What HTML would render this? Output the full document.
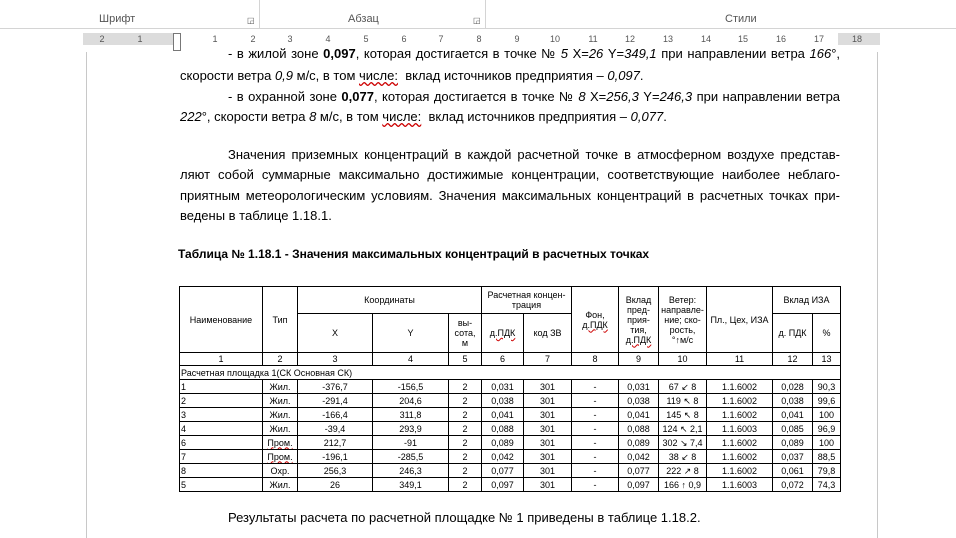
<!DOCTYPE html>
<html><head><meta charset="utf-8">
<style>
*{margin:0;padding:0;box-sizing:border-box}
body{width:956px;height:538px;overflow:hidden;background:#fff;position:relative;font-family:"Liberation Sans",sans-serif;color:#000}
.rib{position:absolute;top:13px;font-size:11px;color:#555}
.vl{position:absolute;top:0;height:28px;width:1px;background:#d4d4d4}
.ruler{position:absolute;top:33px;height:12px;left:83px;width:797px;background:#dcdcdc}
.rw{position:absolute;top:33px;height:12px;left:177px;width:661px;background:#fff}
.rn{position:absolute;top:34px;font-size:9px;color:#555;transform:translateX(-50%)}
.ln{position:absolute;left:180px;width:660px;font-size:13px;white-space:nowrap;text-align:justify;text-align-last:justify;line-height:16px}
.ln.l{text-align-last:left}
table{position:absolute;left:179px;top:286px;border-collapse:collapse;table-layout:fixed;font-size:9px}
td{border:1px solid #000;text-align:center;vertical-align:middle;padding:0 1px;overflow:hidden;white-space:nowrap;line-height:10px}
tr.d td{height:14px}
.u{text-decoration:underline wavy #c00}
</style></head><body>
<div class="vl" style="left:259px"></div><div class="vl" style="left:485px"></div>
<div style="position:absolute;left:0;top:28px;width:956px;height:1px;background:#d4d4d4"></div>
<div class="rib" style="left:99px">Шрифт</div>
<div class="rib" style="left:348px">Абзац</div>
<div class="rib" style="left:725px">Стили</div>
<div class="rib" style="left:247px;font-size:8px;top:16px">◲</div>
<div class="rib" style="left:473px;font-size:8px;top:16px">◲</div>
<div class="ruler"></div><div class="rw"></div>
<div class="rn" style="left:102px">2</div><div class="rn" style="left:140px">1</div>
<div class="rn" style="left:215px">1</div><div class="rn" style="left:253px">2</div><div class="rn" style="left:290px">3</div><div class="rn" style="left:328px">4</div><div class="rn" style="left:366px">5</div><div class="rn" style="left:404px">6</div><div class="rn" style="left:441px">7</div><div class="rn" style="left:479px">8</div><div class="rn" style="left:517px">9</div><div class="rn" style="left:555px">10</div><div class="rn" style="left:593px">11</div><div class="rn" style="left:630px">12</div><div class="rn" style="left:668px">13</div><div class="rn" style="left:706px">14</div><div class="rn" style="left:743px">15</div><div class="rn" style="left:781px">16</div><div class="rn" style="left:819px">17</div><div class="rn" style="left:857px">18</div>
<div style="position:absolute;left:173px;top:33px;width:8px;height:18px;border:1px solid #777;background:#fff"></div>
<div style="position:absolute;left:86px;top:52px;width:1px;height:486px;background:#c8c8c8"></div>
<div style="position:absolute;left:877px;top:52px;width:1px;height:486px;background:#c8c8c8"></div>

<div class="ln" style="top:46px;left:228px;width:612px">- в жилой зоне <b>0,097</b>, которая достигается в точке № <i>5</i> Х=<i>26</i> Y=<i>349,1</i> при направлении ветра <i>166</i>°,</div>
<div class="ln l" style="top:68px">скорости ветра <i>0,9</i> м/с, в том <span class="u">числе:</span> &nbsp;вклад источников предприятия – <i>0,097</i>.</div>
<div class="ln" style="top:89px;left:228px;width:612px">- в охранной зоне <b>0,077</b>, которая достигается в точке № <i>8</i> Х=<i>256,3</i> Y=<i>246,3</i> при направлении ветра</div>
<div class="ln l" style="top:109px"><i>222</i>°, скорости ветра <i>8</i> м/с, в том <span class="u">числе:</span> &nbsp;вклад источников предприятия – <i>0,077</i>.</div>
<div class="ln" style="top:147px;left:228px;width:612px">Значения приземных концентраций в каждой расчетной точке в атмосферном воздухе представ-</div>
<div class="ln" style="top:167px">ляют собой суммарные максимально достижимые концентрации, соответствующие наиболее неблаго-</div>
<div class="ln" style="top:188px">приятным метеорологическим условиям. Значения максимальных концентраций в расчетных точках при-</div>
<div class="ln l" style="top:208px">ведены в таблице 1.18.1.</div>
<div class="ln l" style="top:246px;left:178px;font-size:12px;font-weight:bold">Таблица № 1.18.1 - Значения максимальных концентраций в расчетных точках</div>

<table>
<colgroup><col style="width:83px"><col style="width:35px"><col style="width:75px"><col style="width:76px"><col style="width:33px"><col style="width:42px"><col style="width:48px"><col style="width:47px"><col style="width:40px"><col style="width:48px"><col style="width:66px"><col style="width:40px"><col style="width:28px"></colgroup>
<tr style="height:27px"><td rowspan="2">Наименование</td><td rowspan="2">Тип</td><td colspan="3">Координаты</td><td colspan="2">Расчетная концен-<br>трация</td><td rowspan="2">Фон,<br><span class="u">д.ПДК</span></td><td rowspan="2">Вклад<br>пред-<br>прия-<br>тия,<br><span class="u">д.ПДК</span></td><td rowspan="2">Ветер:<br>направле-<br>ние; ско-<br>рость,<br>°↑м/с</td><td rowspan="2">Пл., Цех, ИЗА</td><td colspan="2">Вклад ИЗА</td></tr>
<tr style="height:39px"><td>X</td><td>Y</td><td>вы-<br>сота,<br>м</td><td><span class="u">д.ПДК</span></td><td>код ЗВ</td><td>д. ПДК</td><td>%</td></tr>
<tr style="height:13px"><td>1</td><td>2</td><td>3</td><td>4</td><td>5</td><td>6</td><td>7</td><td>8</td><td>9</td><td>10</td><td>11</td><td>12</td><td>13</td></tr>
<tr class="d"><td colspan="13" style="text-align:left">Расчетная площадка 1(СК Основная СК)</td></tr>
<tr class="d"><td style="text-align:left">1</td><td>Жил.</td><td>-376,7</td><td>-156,5</td><td>2</td><td>0,031</td><td>301</td><td>-</td><td>0,031</td><td>67 ↙ 8</td><td>1.1.6002</td><td>0,028</td><td>90,3</td></tr>
<tr class="d"><td style="text-align:left">2</td><td>Жил.</td><td>-291,4</td><td>204,6</td><td>2</td><td>0,038</td><td>301</td><td>-</td><td>0,038</td><td>119 ↖ 8</td><td>1.1.6002</td><td>0,038</td><td>99,6</td></tr>
<tr class="d"><td style="text-align:left">3</td><td>Жил.</td><td>-166,4</td><td>311,8</td><td>2</td><td>0,041</td><td>301</td><td>-</td><td>0,041</td><td>145 ↖ 8</td><td>1.1.6002</td><td>0,041</td><td>100</td></tr>
<tr class="d"><td style="text-align:left">4</td><td>Жил.</td><td>-39,4</td><td>293,9</td><td>2</td><td>0,088</td><td>301</td><td>-</td><td>0,088</td><td>124 ↖ 2,1</td><td>1.1.6003</td><td>0,085</td><td>96,9</td></tr>
<tr class="d"><td style="text-align:left">6</td><td><span class="u">Пром.</span></td><td>212,7</td><td>-91</td><td>2</td><td>0,089</td><td>301</td><td>-</td><td>0,089</td><td>302 ↘ 7,4</td><td>1.1.6002</td><td>0,089</td><td>100</td></tr>
<tr class="d"><td style="text-align:left">7</td><td><span class="u">Пром.</span></td><td>-196,1</td><td>-285,5</td><td>2</td><td>0,042</td><td>301</td><td>-</td><td>0,042</td><td>38 ↙ 8</td><td>1.1.6002</td><td>0,037</td><td>88,5</td></tr>
<tr class="d"><td style="text-align:left">8</td><td>Охр.</td><td>256,3</td><td>246,3</td><td>2</td><td>0,077</td><td>301</td><td>-</td><td>0,077</td><td>222 ↗ 8</td><td>1.1.6002</td><td>0,061</td><td>79,8</td></tr>
<tr class="d"><td style="text-align:left">5</td><td>Жил.</td><td>26</td><td>349,1</td><td>2</td><td>0,097</td><td>301</td><td>-</td><td>0,097</td><td>166 ↑ 0,9</td><td>1.1.6003</td><td>0,072</td><td>74,3</td></tr>
</table>
<div class="ln l" style="top:510px;left:228px">Результаты расчета по расчетной площадке № 1 приведены в таблице 1.18.2.</div>
</body></html>
